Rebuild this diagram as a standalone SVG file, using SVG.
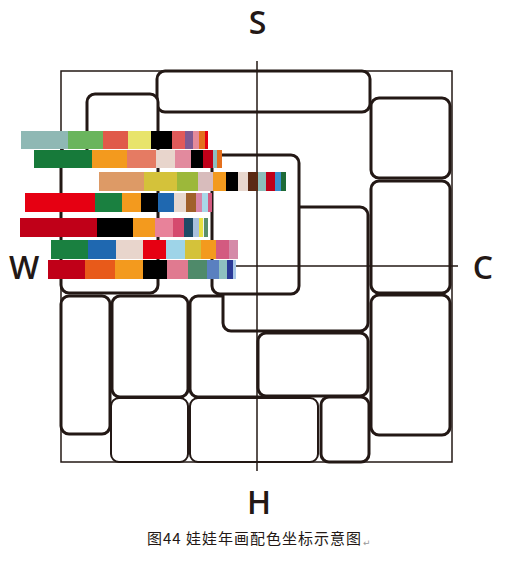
<svg xmlns="http://www.w3.org/2000/svg" width="506" height="565" viewBox="0 0 506 565">
<style>
.blk{fill:#fff;stroke:#231815;stroke-width:3}
.blk2{fill:#fff;stroke:#231815;stroke-width:2}
.thin{fill:none;stroke:#231815;stroke-width:1.5}
.lbl{font-family:"Open Sans","Liberation Sans",sans-serif;font-size:32px;font-weight:600;fill:#231815;text-anchor:middle}
.cap{font-family:"Noto Sans CJK SC","Liberation Sans",sans-serif;font-size:15px;fill:#231815;letter-spacing:1px}
</style>
<rect width="506" height="565" fill="#fff"/>
<g id="blocks">
<g id="n-top"><rect class="blk" x="157" y="71" width="213" height="41" rx="8"/></g>
<g id="n-left"><rect class="blk" x="61" y="145" width="97" height="148" rx="8"/></g>
<g id="n-small"><rect class="blk" x="87" y="94" width="71" height="66" rx="8"/></g>
<g id="n-d"><rect class="blk" x="190" y="296" width="110" height="101" rx="8"/></g>
<g id="n-a"><rect class="blk" x="223" y="207" width="145" height="124" rx="8"/></g>
<g id="n-center"><rect class="blk" x="212" y="155" width="87" height="139" rx="8"/></g>
<g id="n-r1"><rect class="blk" x="371" y="98" width="79" height="80" rx="8"/></g>
<g id="n-r2"><rect class="blk" x="371" y="181" width="79" height="112" rx="8"/></g>
<g id="n-r3"><rect class="blk" x="371" y="295" width="79" height="140" rx="8"/></g>
<g id="n-tall"><rect class="blk" x="61" y="296" width="49" height="138" rx="8"/></g>
<g id="n-mid"><rect class="blk" x="112" y="296" width="76" height="101" rx="8"/></g>
<g id="n-c"><rect class="blk" x="258" y="333" width="110" height="63" rx="8"/></g>
<g id="n-e"><rect class="blk2" x="111" y="398" width="77" height="64" rx="8"/></g>
<g id="n-f"><rect class="blk2" x="190" y="398" width="128" height="64" rx="8"/></g>
<g id="n-g"><rect class="blk" x="321" y="397" width="48" height="65" rx="8"/></g>
</g>
<g id="axes">
<rect class="thin" x="61" y="71" width="391" height="391"/>
<line class="thin" x1="257" y1="61" x2="257" y2="471"/>
<line class="thin" x1="50" y1="266" x2="458" y2="266"/>
</g>
<g id="bars">
<g id="row1">
<rect x="21" y="131" width="47" height="18" fill="#8fb8b4"/>
<rect x="68" y="131" width="35" height="18" fill="#6ab55d"/>
<rect x="103" y="131" width="25" height="18" fill="#e05a4a"/>
<rect x="128" y="131" width="23" height="18" fill="#e8e46c"/>
<rect x="151" y="131" width="21" height="18" fill="#000"/>
<rect x="172" y="131" width="13" height="18" fill="#e05a5a"/>
<rect x="185" y="131" width="8" height="18" fill="#7e5a93"/>
<rect x="193" y="131" width="6" height="18" fill="#e48a9a"/>
<rect x="199" y="131" width="6" height="18" fill="#e4701e"/>
<rect x="205" y="131" width="3" height="18" fill="#e60012"/>
</g>
<g id="row2">
<rect x="34" y="150" width="58" height="18" fill="#177a3a"/>
<rect x="92" y="150" width="35" height="18" fill="#f39a1e"/>
<rect x="127" y="150" width="29" height="18" fill="#e57b63"/>
<rect x="156" y="150" width="19" height="18" fill="#e8d5cc"/>
<rect x="175" y="150" width="16" height="18" fill="#e28a9e"/>
<rect x="191" y="150" width="12" height="18" fill="#000"/>
<rect x="203" y="150" width="10" height="18" fill="#c00018"/>
<rect x="213" y="150" width="4" height="18" fill="#8dc0c0"/>
<rect x="217" y="150" width="5" height="18" fill="#e4701e"/>
</g>
<g id="row3">
<rect x="99" y="172" width="45" height="19" fill="#dd9a66"/>
<rect x="144" y="172" width="33" height="19" fill="#d4c23a"/>
<rect x="177" y="172" width="21" height="19" fill="#9cb83a"/>
<rect x="198" y="172" width="15" height="19" fill="#d8bcbc"/>
<rect x="213" y="172" width="13" height="19" fill="#f39a1e"/>
<rect x="226" y="172" width="12" height="19" fill="#000"/>
<rect x="238" y="172" width="10" height="19" fill="#e8d8cf"/>
<rect x="248" y="172" width="10" height="19" fill="#5a2a14"/>
<rect x="258" y="172" width="8" height="19" fill="#8cbebb"/>
<rect x="266" y="172" width="9" height="19" fill="#c00018"/>
<rect x="275" y="172" width="6" height="19" fill="#3a8fcf"/>
<rect x="281" y="172" width="5" height="19" fill="#1e6b37"/>
</g>
<g id="row4">
<rect x="25" y="193" width="70" height="19" fill="#e60012"/>
<rect x="95" y="193" width="27" height="19" fill="#1a8040"/>
<rect x="122" y="193" width="19" height="19" fill="#f39a1e"/>
<rect x="141" y="193" width="17" height="19" fill="#000"/>
<rect x="158" y="193" width="16" height="19" fill="#1f68b0"/>
<rect x="174" y="193" width="12" height="19" fill="#e8d8cf"/>
<rect x="186" y="193" width="10" height="19" fill="#a0602a"/>
<rect x="196" y="193" width="6" height="19" fill="#d885a8"/>
<rect x="202" y="193" width="6" height="19" fill="#a8d8e8"/>
<rect x="208" y="193" width="4" height="19" fill="#d35a80"/>
</g>
<g id="row5">
<rect x="20" y="218" width="77" height="19" fill="#c00018"/>
<rect x="97" y="218" width="36" height="19" fill="#000"/>
<rect x="133" y="218" width="22" height="19" fill="#f39a1e"/>
<rect x="155" y="218" width="18" height="19" fill="#e8829a"/>
<rect x="173" y="218" width="11" height="19" fill="#d54a6e"/>
<rect x="184" y="218" width="9" height="19" fill="#1e4a66"/>
<rect x="193" y="218" width="6" height="19" fill="#a8c0dc"/>
<rect x="199" y="218" width="4" height="19" fill="#e8e040"/>
<rect x="203" y="218" width="1" height="19" fill="#eef2f0"/>
<rect x="204" y="218" width="4" height="19" fill="#5a8f6a"/>
</g>
<g id="row6">
<rect x="51" y="240" width="37" height="19" fill="#1a8040"/>
<rect x="88" y="240" width="28" height="19" fill="#1f68b0"/>
<rect x="116" y="240" width="27" height="19" fill="#e8d5cc"/>
<rect x="143" y="240" width="23" height="19" fill="#e60012"/>
<rect x="166" y="240" width="19" height="19" fill="#9ed4e8"/>
<rect x="185" y="240" width="16" height="19" fill="#d4c23a"/>
<rect x="201" y="240" width="15" height="19" fill="#f39a1e"/>
<rect x="216" y="240" width="13" height="19" fill="#d35a80"/>
<rect x="229" y="240" width="9" height="19" fill="#d58aa8"/>
</g>
<g id="row7">
<rect x="48" y="260" width="37" height="19" fill="#c00018"/>
<rect x="85" y="260" width="30" height="19" fill="#e85a1a"/>
<rect x="115" y="260" width="28" height="19" fill="#f39a1e"/>
<rect x="143" y="260" width="24" height="19" fill="#000"/>
<rect x="167" y="260" width="21" height="19" fill="#e07a90"/>
<rect x="188" y="260" width="19" height="19" fill="#4f8a6a"/>
<rect x="207" y="260" width="12" height="19" fill="#5a80c0"/>
<rect x="219" y="260" width="8" height="19" fill="#8ec0c0"/>
<rect x="227" y="260" width="6" height="19" fill="#2a3a98"/>
<rect x="233" y="260" width="3" height="19" fill="#a8c8e8"/>
</g>
</g>
<g id="labels">
<text class="lbl" x="257.5" y="34">S</text>
<text class="lbl" x="24" y="279">W</text>
<text class="lbl" x="483" y="279">C</text>
<text class="lbl" x="259" y="514">H</text>
<text class="cap" x="147" y="544">图44 娃娃年画配色坐标示意图</text>
<text x="363" y="546" font-family="DejaVu Sans, sans-serif" font-size="9" fill="#999">↵</text>
</g>
</svg>
